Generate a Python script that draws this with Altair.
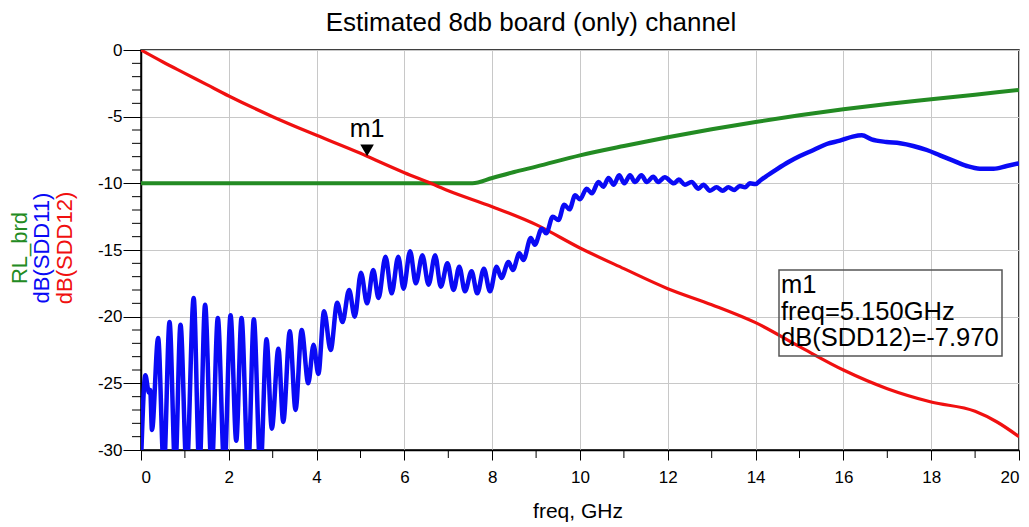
import altair as alt
import pandas as pd

# ---------------- data ----------------
freq_sdd12 = [0.0, 0.5, 1.0, 1.5, 2.0, 3.0, 4.0, 5.0, 5.15, 6.0, 6.6, 7.0, 8.0, 9.0, 10.0,
              11.0, 12.0, 13.0, 14.0, 15.0, 16.0, 17.0, 18.0, 19.0, 19.5, 20.0]
db_sdd12 = [0.0, -0.9, -1.75, -2.6, -3.45, -5.0, -6.4, -7.75, -7.97, -9.2, -10.0, -10.55, -11.75, -13.1, -14.85,
            -16.4, -17.9, -19.1, -20.45, -22.25, -24.0, -25.4, -26.4, -27.1, -27.9, -29.0]

freq_rl = [0.0, 7.55, 8.0, 8.5, 9.0, 10.0, 11.0, 12.0, 13.0, 14.0, 15.0, 16.0, 17.0, 18.0, 19.0, 20.0]
db_rl = [-10.0, -10.0, -9.6, -9.15, -8.75, -7.9, -7.2, -6.55, -5.95, -5.4, -4.9, -4.45, -4.05, -3.7, -3.35, -3.0]

freq_sdd11 = [0.0, 0.1, 0.18, 0.21, 0.25, 0.39, 0.52, 0.65, 0.78, 0.9, 1.04, 1.2, 1.33, 1.46, 1.61, 1.75,
              1.9, 2.04, 2.17, 2.29, 2.44, 2.57, 2.72, 2.86, 2.98, 3.13, 3.24, 3.39, 3.52, 3.66, 3.81,
              3.93, 4.04, 4.17, 4.32, 4.47, 4.59, 4.74, 4.87, 5.01, 5.15, 5.29, 5.41, 5.57, 5.71, 5.86,
              5.98, 6.13, 6.26, 6.41, 6.55, 6.7, 6.83, 6.98, 7.12, 7.25, 7.38, 7.53, 7.66, 7.81, 7.95,
              8.1, 8.21, 8.37, 8.47, 8.62, 8.71, 8.88, 8.97, 9.13, 9.23, 9.38, 9.51, 9.64, 9.76, 9.89,
              10.0, 10.15, 10.27, 10.42, 10.53, 10.65, 10.77, 10.89, 11.01, 11.14, 11.25, 11.4, 11.52,
              11.67, 11.78, 11.93, 12.14, 12.25, 12.39, 12.54, 12.7, 12.81, 12.96, 13.11, 13.25, 13.38,
              13.51, 13.64, 13.76, 13.87, 14.0, 14.12, 14.25, 14.48, 14.75, 15.01, 15.32, 15.62, 15.92, 16.21,
              16.42, 16.64, 16.98, 17.29, 17.59, 17.9, 18.2, 18.5, 18.81, 19.11, 19.42, 19.72, 20.0]
db_sdd11 = [-31.0, -24.4, -25.7, -25.5, -28.5, -21.6, -31.5, -20.4, -31.5, -20.6, -31.5, -18.6, -31.5, -19.1, -31.5, -20.1,
            -31.5, -19.9, -29.3, -20.1, -31.5, -20.2, -31.5, -21.7, -28.4, -22.4, -27.9, -21.1, -27.0, -21.0, -25.0,
            -22.1, -24.3, -19.6, -22.5, -18.95, -20.4, -18.0, -20.0, -16.7, -19.0, -16.5, -18.6, -15.5, -18.25, -15.5,
            -17.9, -15.1, -17.5, -15.4, -17.6, -15.4, -17.75, -16.0, -18.0, -16.25, -18.1, -16.6, -18.25, -16.4, -18.1,
            -16.25, -17.1, -15.9, -16.5, -15.25, -15.75, -14.1, -14.6, -13.4, -13.75, -12.5, -12.75, -11.6, -11.95, -10.9,
            -11.2, -10.4, -10.75, -9.9, -10.25, -9.6, -10.1, -9.4, -10.0, -9.4, -9.9, -9.4, -9.9,
            -9.5, -9.9, -9.55, -10.0, -9.72, -10.1, -9.9, -10.4, -10.1, -10.55, -10.3, -10.55, -10.3,
            -10.5, -10.2, -10.3, -10.0, -10.05, -9.75, -9.45, -8.95, -8.4, -7.95, -7.5, -7.05, -6.8, -6.5,
            -6.4, -6.7, -6.9, -7.0, -7.2, -7.5, -7.9, -8.3, -8.7, -8.9, -8.9, -8.7, -8.5]

x_major = [0, 2, 4, 6, 8, 10, 12, 14, 16, 18, 20]
x_minor = [1, 3, 5, 7, 9, 11, 13, 15, 17, 19]
y_major = [0, -5, -10, -15, -20, -25, -30]
y_minor = [-1, -2, -3, -4, -6, -7, -8, -9, -11, -12, -13, -14, -16, -17, -18, -19,
           -21, -22, -23, -24, -26, -27, -28, -29]

marker_name = "m1"
marker_freq = 5.150
marker_db = -7.970

title_text = "Estimated 8db board (only) channel"
x_title = "freq, GHz"
y_titles = ["RL_brd", "dB(SDD11)", "dB(SDD12)"]

# ---------------- styling ----------------
FONT = "Liberation Sans"
W, H = 878, 400
GREEN, BLUE, RED = "#238b23", "#0a0af5", "#f01010"

xs = alt.Scale(domain=[0, 20], nice=False, zero=False)
ys = alt.Scale(domain=[-30, 0], nice=False, zero=False)

x_axis = alt.Axis(values=x_major, grid=True, gridColor="#c8c8c8", gridWidth=1,
                  tickSize=10, tickColor="black", tickWidth=1,
                  labelFontSize=17, labelFont=FONT, labelColor="black", labelPadding=9,
                  labelExpr="'' + datum.value",
                  domainColor="black", domainWidth=1.5, title=None, labelAngle=0)
y_axis = alt.Axis(values=y_major, grid=True, gridColor="#c8c8c8", gridWidth=1,
                  tickSize=18, tickColor="black", tickWidth=1,
                  labelFontSize=17, labelFont=FONT, labelColor="black", labelPadding=1,
                  labelExpr="'' + datum.value",
                  domainColor="black", domainWidth=1.5, title=None)


def X(field="f"):
    return alt.X(f"{field}:Q", scale=xs, axis=x_axis)


def Y(field="db"):
    return alt.Y(f"{field}:Q", scale=ys, axis=y_axis)


df_rl = pd.DataFrame({"f": freq_rl, "db": db_rl})
df_12 = pd.DataFrame({"f": freq_sdd12, "db": db_sdd12})
df_11 = pd.DataFrame({"f": freq_sdd11, "db": db_sdd11})

green = alt.Chart(df_rl).mark_line(color=GREEN, strokeWidth=4, clip=True, interpolate="monotone").encode(x=X(), y=Y())
red = alt.Chart(df_12).mark_line(color=RED, strokeWidth=3.2, clip=True, interpolate="monotone").encode(x=X(), y=Y())
blue = alt.Chart(df_11).mark_line(color=BLUE, strokeWidth=4.5, clip=True, interpolate="monotone").encode(x=X(), y=Y())

xminor = alt.Chart(pd.DataFrame({"f": x_minor})).mark_rule(color="black", strokeWidth=1).encode(
    x=X(), y=alt.value(H), y2=alt.value(H + 8))
yminor = alt.Chart(pd.DataFrame({"db": y_minor})).mark_rule(color="black", strokeWidth=1).encode(
    y=Y(), x=alt.value(-9), x2=alt.value(0))

mk = pd.DataFrame({"f": [marker_freq], "db": [marker_db], "name": [marker_name]})
tri = alt.Chart(mk).mark_point(shape="triangle-down", filled=True, size=185, color="black",
                               opacity=1, yOffset=-6).encode(x=X(), y=Y())
mlabel = alt.Chart(mk).mark_text(font=FONT, fontSize=25, color="black", align="center",
                                 baseline="alphabetic", dy=-19).encode(x=X(), y=Y(), text="name:N")

readout = f"{marker_name}\nfreq={marker_freq:.3f}GHz\ndB(SDD12)={marker_db:.3f}"
one = pd.DataFrame({"t": [readout]})
box = alt.Chart(one).mark_rect(fill=None, fillOpacity=0, stroke="#555555", strokeWidth=1.5).encode(
    x=alt.value(638), x2=alt.value(861), y=alt.value(220), y2=alt.value(306))
box_text = alt.Chart(one).mark_text(font=FONT, fontSize=25.5, color="black", align="left",
                                    baseline="alphabetic", lineBreak="\n", lineHeight=26.5).encode(
    x=alt.value(640), y=alt.value(243), text="t:N")

title = alt.Chart(pd.DataFrame({"t": [title_text]})).mark_text(
    font=FONT, fontSize=26, color="black", align="center", baseline="alphabetic").encode(
    x=alt.value(390), y=alt.value(-19), text="t:N")
xtitle = alt.Chart(pd.DataFrame({"t": [x_title]})).mark_text(
    font=FONT, fontSize=21, color="black", align="center", baseline="alphabetic").encode(
    x=alt.value(W / 2 - 2), y=alt.value(H + 68), text="t:N")

ytitle_layers = []
for txt, col, xp in zip(y_titles, [GREEN, BLUE, RED], [-114, -92, -69]):
    ytitle_layers.append(
        alt.Chart(pd.DataFrame({"t": [txt]})).mark_text(
            font=FONT, fontSize=22, color=col, align="center", baseline="alphabetic", angle=270).encode(
            x=alt.value(xp), y=alt.value(198), text="t:N"))

chart = alt.layer(green, red, blue, xminor, yminor, tri, mlabel, box, box_text, title, xtitle,
                  *ytitle_layers).properties(
    width=W, height=H, autosize="none",
    padding={"left": 141, "top": 50, "right": 10, "bottom": 77},
    background="white",
).configure_view(stroke="black", strokeWidth=1.5)

chart.save("out.html", embed_options={"renderer": "svg", "actions": False})
